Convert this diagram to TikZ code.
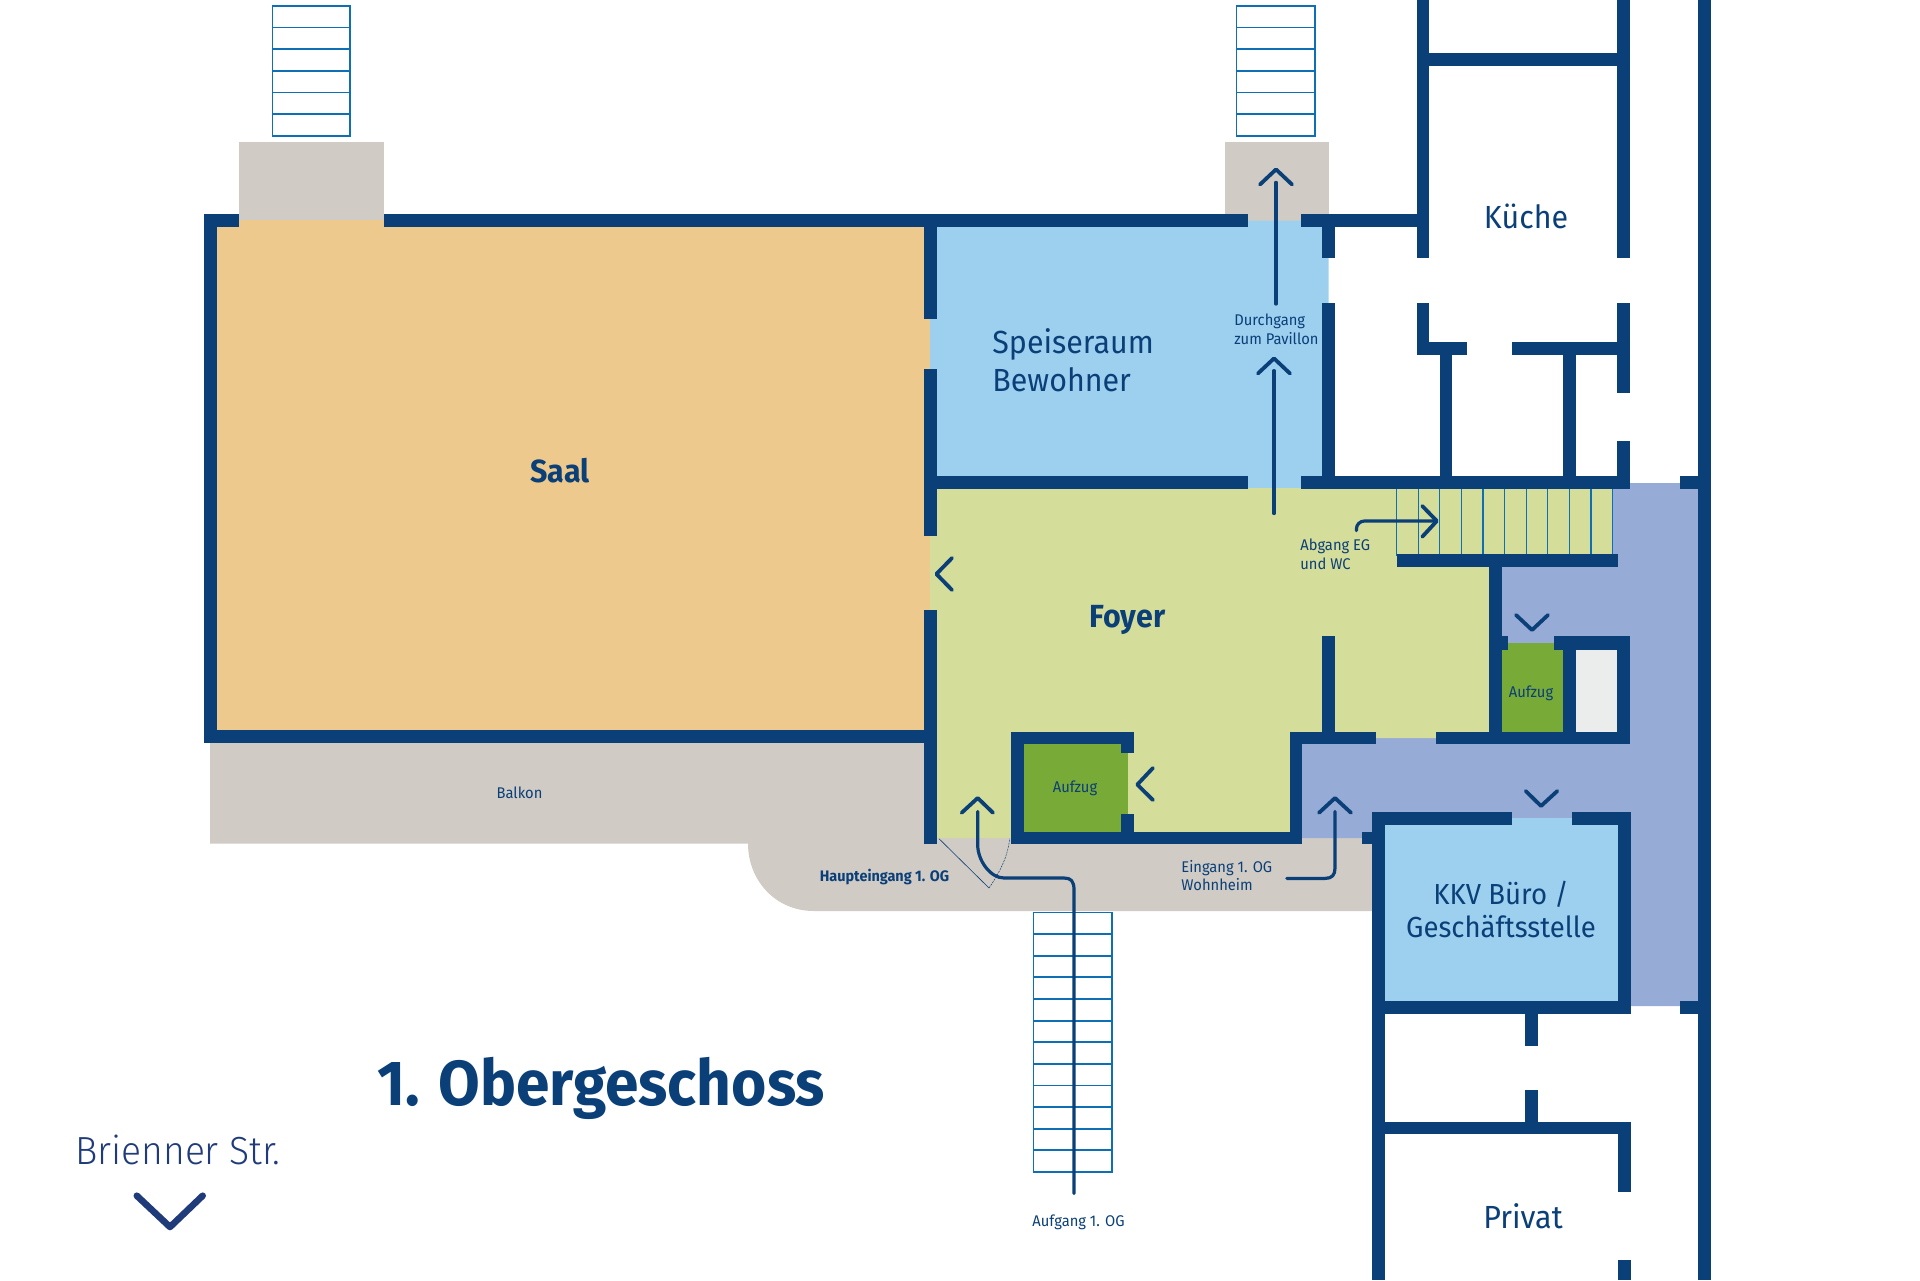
\documentclass[tikz,border=0pt]{standalone}
\usepackage{fontspec}
\setmainfont{Fira Sans}[FakeStretch=0.95]
\newfontfamily\lightfont{Fira Sans Light}[FakeStretch=0.95]
\definecolor{wallblue}{HTML}{0A3F78}
\definecolor{saalorange}{HTML}{EDC98E}
\definecolor{roomblue}{HTML}{9DCFEF}
\definecolor{foyergreen}{HTML}{D4DD9A}
\definecolor{terracegray}{HTML}{D0CBC4}
\definecolor{corridorblue}{HTML}{96ABD6}
\definecolor{liftgreen}{HTML}{78AA37}
\definecolor{shaftgray}{HTML}{EBECEC}
\definecolor{stairblue}{HTML}{0F6FB5}
\definecolor{streetblue}{HTML}{1F3B7A}
\tikzset{
  wall/.style={fill=wallblue},
  rung/.style={draw=stairblue,line width=0.9pt},
  thinrung/.style={draw=stairblue,line width=0.6pt},
  guide/.style={draw=wallblue,line width=1.6pt,line cap=round,line join=round},
  chevron/.style={draw=wallblue,line width=1.9pt,line cap=round,line join=round},
  roomtext/.style={text=wallblue,inner sep=0pt,align=left,font=\fontsize{16}{19}\selectfont},
  smalltext/.style={text=wallblue,inner sep=0pt,align=left,font=\fontsize{7.75}{9.35}\selectfont},
  boldtext/.style={text=wallblue,inner sep=0pt,font=\fontsize{16}{18}\selectfont\bfseries},
}
\begin{document}
\begin{tikzpicture}[x=0.5pt,y=-0.5pt]
\useasboundingbox (0,0) rectangle (1920,1280);
% floors
\fill[terracegray] (238.8,142.4) rectangle (384,226);
\fill[terracegray] (1225,142.4) rectangle (1328.6,226);
\fill[terracegray] (210,740) -- (930,740) -- (930,838) -- (1380,838) -- (1380,911) -- (814,911)
  .. controls (775,911) and (748,880) .. (748,843.5) -- (210,843.5) -- cycle;
\fill[corridorblue] (1612,483) -- (1698,483) -- (1698,1006) -- (1400,1006) -- (1400,838)
  -- (1296,838) -- (1296,738) -- (1495,738) -- (1495,560) -- (1612,560) -- cycle;
\fill[saalorange] (238.8,220) -- (384,220) -- (384,226) -- (930,226) -- (930,736) -- (210,736)
  -- (210,226) -- (238.8,226) -- cycle;
\fill[roomblue] (1248,220.5) -- (1301,220.5) -- (1301,226) -- (1328.6,226) -- (1328.6,488)
  -- (930,488) -- (930,226) -- (1248,226) -- cycle;
\fill[foyergreen] (930,488) -- (1495,488) -- (1495,738) -- (1296,738) -- (1296,838) -- (930,838) -- cycle;
\fill[foyergreen] (1396.6,488) rectangle (1612.5,556);
\fill[liftgreen] (1017,744) rectangle (1127.7,838);
\fill[liftgreen] (1502,643) rectangle (1562.7,735);
\fill[shaftgray] (1570,645) rectangle (1620,735);
\fill[roomblue] (1378,818) rectangle (1625,1005);
% stairs
\foreach \xl/\xr/\yt/\yb/\n in {272.5/350/5.7/136/6,1236.4/1315/5.7/136/6,1033.4/1111.6/912.5/1172/12}
{
  \draw[rung] (\xl,\yt) rectangle (\xr,\yb);
  \foreach \i in {1,...,\n}
  {
    \draw[rung] (\xl,{\yt+(\yb-\yt)*\i/\n}) -- (\xr,{\yt+(\yb-\yt)*\i/\n});
  }
}
\foreach \i in {0,...,10}
{
  \draw[thinrung] ({1396.6+21.59*\i},488) -- ({1396.6+21.59*\i},556);
}
% walls
\foreach \xa/\ya/\xb/\yb in {
  204/213.5/238.8/226.5,384/213.5/1248/226.5,1300.7/213.5/1417/226.5,
  204/213.5/216.8/742.5,204/730/924/742.5,
  924/226/937/319,924/369.4/937/535.5,924/610/937/844.3,
  937/476/1248/488.6,1300.7/476/1629.6/488.6,1679.5/476/1698/488.6,
  1322/226.5/1335/257.5,1322/303/1335/476,
  1417/0/1429/257.5,1616.8/0/1629.6/257.5,1429/53/1616.8/66,1698/0/1711/1280,
  1417/303/1429/355,1417/342/1467/355,1512/342/1617/355,
  1616.8/303/1629.6/392.6,1616.8/441/1629.6/488.6,
  1439.5/355/1452/476,1562.7/355/1575.5/476,
  1396.6/554/1618.4/566.5,1489/566/1502/744,
  1489/636/1508/649.5,1554/636/1629.6/649.5,1616.8/636/1629.6/744,
  1562.7/649.5/1575.5/735,1435.7/731.5/1629.6/744,
  1322/635.6/1335/731.5,1289.5/731.5/1376/744,1289.5/731.5/1302/844.3,
  1011/831.7/1302/844.3,1011/731.5/1023.7/844.3,1011/731.5/1134/744,
  1121/744/1134/753.4,1121/814.4/1134/831.7,
  1362/831.7/1372/844.3,1372/811.5/1384.8/1280,
  1372/811.5/1512/824.5,1572/811.5/1631/824.5,1617.9/811.5/1631/1013.5,
  1372/1001/1631/1013.5,1679.5/1001/1698/1013.5,
  1525/1013.5/1538/1046,1525/1090/1538/1122,
  1384.8/1121.7/1631/1134.3,1617.9/1134/1631/1192.4,1617.9/1259.7/1631/1280}
{
  \fill[wall] (\xa,\ya) rectangle (\xb,\yb);
}
% entrance door
\draw[wallblue,line width=0.3pt] (939,838.7) -- (989,888);
\draw[wallblue,line width=0.25pt,dash pattern=on 1pt off 0.5pt] (989,888) .. controls (1000,872) and (1008,856) .. (1009.6,838.7);
% arrows
\draw[guide] (1276,304) -- (1276,182.4);
\draw[guide] (1274,513.5) -- (1274,370.6);
\draw[guide,rounded corners=4pt] (1356.4,530.6) -- (1356.4,521) -- (1435,521);
\draw[guide] (1074,1193.6) -- (1074,890) .. controls (1074,881) and (1071,878) .. (1064,878)
  -- (1004,878) .. controls (990,878) and (977.7,860) .. (977.7,845) -- (977.7,811.5);
\draw[guide] (1286.8,878.4) -- (1325,878.4) .. controls (1332,878.4) and (1335,875) .. (1335,868) -- (1335,811.5);
% chevrons
\foreach \xa/\ya/\xb/\yb/\xc/\yc in {
  1260/184.5/1276/169.4/1292/184.5,1257.9/373.5/1274/358.4/1290/373.5,
  961.6/812.8/977.7/798/993/812.8,1319/812.8/1335/798/1351/812.8,
  1525.7/791/1541/806/1557.3/791,1516/615/1532/630/1548/615,
  952/558/936.4/574/952/590,1152.9/768/1137.3/784.6/1152.9/800,
  1422.3/506/1436.8/521/1422.3/536.7}
{
  \draw[chevron] (\xa,\ya) -- (\xb,\yb) -- (\xc,\yc);
}
\draw[chevron,draw=streetblue,line width=3.3pt] (136.8,1195.7) -- (170,1227) -- (202.7,1195.7);
% labels
\node[boldtext,anchor=base] (saal) at (560,482) {Saal};
\node[boldtext,anchor=base] (foyer) at (1127.5,627.5) {Foyer};
\node[roomtext,anchor=west] (speiseraum) at (992,360.5) {Speiseraum\\Bewohner};
\node[roomtext,anchor=base] (kueche) at (1526,228.6) {Küche};
\node[roomtext,align=center,font=\fontsize{14.5}{16.5}\selectfont] (buero) at (1501,909) {KKV Büro /\\Geschäftsstelle};
\node[roomtext,anchor=base] (privat) at (1523,1228) {Privat};
\node[smalltext,anchor=west] (durchgang) at (1234,329) {Durchgang\\zum Pavillon};
\node[smalltext,anchor=west] (abgang) at (1300,554) {Abgang EG\\und WC};
\node[smalltext,anchor=west] (eingang) at (1181,875.5) {Eingang 1. OG\\Wohnheim};
\node[smalltext] (aufzuglinks) at (1075,788) {Aufzug};
\node[smalltext] (aufzugrechts) at (1531,693) {Aufzug};
\node[smalltext,anchor=base] (aufgang) at (1078.5,1226) {Aufgang 1. OG};
\node[smalltext] (balkon) at (519.5,793) {Balkon};
\node[smalltext,font=\fontsize{7.6}{9.2}\selectfont\bfseries] (haupteingang) at (884.5,877) {Haupteingang 1. OG};
\node[text=wallblue,inner sep=0pt,anchor=base,font=\fontsize{31.8}{36}\selectfont\bfseries] (titel) at (601,1105) {1. Obergeschoss};
\node[text=streetblue,inner sep=0pt,anchor=base,font=\fontsize{19.6}{22}\lightfont] (strasse) at (178,1164) {Brienner Str.};
\end{tikzpicture}
\end{document}
